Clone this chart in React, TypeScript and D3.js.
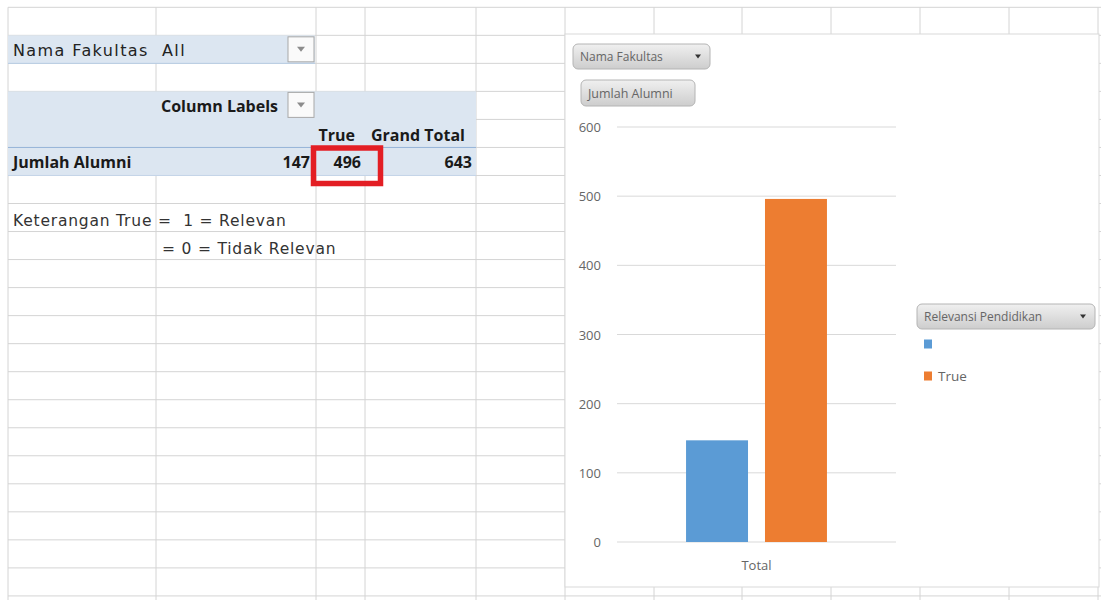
import React from 'react';
import * as d3 from 'd3';

// pivot chart data
const categories = ['Total'];
const seriesNames = ['', 'True'];
const seriesValues = [147, 496];
const seriesColors = ['#5b9bd5', '#ed7d31'];
const yTicks = [0, 100, 200, 300, 400, 500, 600];

// pivot table texts
const filterField = 'Nama Fakultas';
const filterValue = 'All';
const columnLabels = 'Column Labels';
const rowLabel = 'Jumlah Alumni';
const grandTotalLabel = 'Grand Total';
const legendTitle = 'Relevansi Pendidikan';
const noteLines = ['Keterangan True =  1 = Relevan', '= 0 = Tidak Relevan'];

const W = 1101;
const H = 600;
const colX = [8, 156, 316, 365, 476, 565, 654, 742, 831, 920, 1009, 1098];
const rowY = d3.range(22).map(i => 7.3 + i * 28.03);

const gridColor = '#d4d4d4';
const pivotFill = '#dce6f1';
const cellFont = "'Open Sans', sans-serif";
const noteFont = "'DejaVu Sans', sans-serif";
const chartFont = "'Open Sans', sans-serif";

const Button: React.FC<{ x: number; y: number; w: number; h: number; label: string; arrow?: boolean; fs?: number }> = ({ x, y, w, h, label, arrow, fs = 10 }) => (
  <g>
    <rect x={x} y={y} width={w} height={h} rx={5} fill="url(#btnGrad)" stroke="#b4b4b4" />
    <text x={x + 7} y={y + h / 2} dominantBaseline="central" fontSize={fs} fill="#666" fontFamily={chartFont}>{label}</text>
    {arrow && <path d={`M${x + w - 15},${y + h / 2 - 2} l6,0 l-3,4 z`} fill="#333" />}
  </g>
);

const DropBox: React.FC<{ x: number; y: number }> = ({ x, y }) => (
  <g>
    <rect x={x} y={y} width={26} height={25} fill="#fafafa" stroke="#a8a8a8" />
    <path d={`M${x + 9},${y + 10} l8,0 l-4,5 z`} fill="#8c8c8c" />
  </g>
);

const App: React.FC = () => {
  // chart geometry
  const plot = { left: 617, right: 896, top: 127, bottom: 542 };
  const y = d3.scaleLinear().domain([0, 600]).range([plot.bottom, plot.top]);
  const x0 = d3.scaleBand<string>().domain(categories).range([plot.left, plot.right]).paddingOuter(0.49).paddingInner(0);
  const x1 = d3.scaleBand<string>().domain(seriesNames).range([0, x0.bandwidth()]).paddingInner(0.215);
  const grandTotal = d3.sum(seriesValues);

  const r = (i: number) => rowY[i];

  return (
    <svg width={W} height={H} style={{ position: 'absolute', left: 0, top: 0, background: '#fff' }}>
      <defs>
        <linearGradient id="btnGrad" x1="0" y1="0" x2="0" y2="1">
          <stop offset="0" stopColor="#f0f0f0" />
          <stop offset="1" stopColor="#cdcdcd" />
        </linearGradient>
      </defs>

      {/* sheet grid */}
      <g stroke={gridColor} strokeWidth={1}>
        {rowY.map((yy, i) => <line key={'h' + i} x1={colX[0]} x2={W} y1={yy} y2={yy} />)}
        {colX.map((xx, i) => <line key={'v' + i} x1={xx} x2={xx} y1={rowY[0]} y2={H} />)}
      </g>

      {/* pivot table fills */}
      <rect x={colX[0]} y={r(1)} width={colX[2] - colX[0] - 1} height={r(2) - r(1)} fill={pivotFill} />
      <rect x={colX[0]} y={r(3)} width={colX[4] - colX[0]} height={r(6) - r(3)} fill={pivotFill} />
      <line x1={colX[0]} x2={colX[2] - 1} y1={r(2)} y2={r(2)} stroke="#b8cce4" />
      <line x1={colX[0]} x2={colX[4]} y1={r(5)} y2={r(5)} stroke="#95b3d7" />
      <line x1={colX[0]} x2={colX[4]} y1={r(6)} y2={r(6)} stroke="#c5d5e8" />

      <g fontFamily={cellFont} fill="#1a1a1a">
        <text x={13} y={r(2) - 7} fontSize={16} fontFamily={noteFont} letterSpacing={1.4} fill="#222">{filterField}</text>
        <text x={162} y={r(2) - 7} fontSize={16} fontFamily={noteFont} letterSpacing={1.4} fill="#222">{filterValue}</text>
        <text x={161} y={r(4) - 7} fontSize={16} fontWeight="bold">{columnLabels}</text>
        <text x={355} y={r(5) - 6} fontSize={16} fontWeight="bold" textAnchor="end">{seriesNames[1]}</text>
        <text x={465} y={r(5) - 6} fontSize={16} fontWeight="bold" textAnchor="end">{grandTotalLabel}</text>
        <text x={13} y={r(6) - 7} fontSize={16} fontWeight="bold">{rowLabel}</text>
        <text x={310} y={r(6) - 7} fontSize={16} fontWeight="bold" textAnchor="end">{seriesValues[0]}</text>
        <text x={361} y={r(6) - 7} fontSize={16} fontWeight="bold" textAnchor="end">{seriesValues[1]}</text>
        <text x={472} y={r(6) - 7} fontSize={16} fontWeight="bold" textAnchor="end">{grandTotal}</text>
        <text x={13} y={r(8) - 6} fontSize={15.5} letterSpacing={0.8} fill="#333" fontFamily={noteFont} style={{ whiteSpace: 'pre' }}>{noteLines[0]}</text>
        <text x={162} y={r(9) - 6} fontSize={15.5} letterSpacing={0.8} fill="#333" fontFamily={noteFont}>{noteLines[1]}</text>
      </g>
      <DropBox x={288} y={r(1) + 1.5} />
      <DropBox x={288} y={r(3) + 1} />
      <rect x={313.5} y={148} width={67} height={35.5} fill="none" stroke="#e31e24" strokeWidth={5.5} />

      {/* pivot chart */}
      <rect x={565} y={34} width={534} height={553} fill="#fff" stroke="#d9d9d9" />
      <Button x={573} y={44} w={137} h={25} label={filterField} arrow fs={12} />
      <Button x={581} y={80} w={114} h={26} label={rowLabel} fs={12.5} />

      <g>
        {yTicks.map(t => (
          <g key={t}>
            <line x1={plot.left} x2={plot.right} y1={y(t)} y2={y(t)} stroke="#d9d9d9" />
            <text x={601} y={y(t)} dominantBaseline="central" textAnchor="end" fontSize={13} fill="#666" fontFamily={chartFont}>{t}</text>
          </g>
        ))}
      </g>
      {categories.map(c => (
        <g key={c}>
          {seriesValues.map((v, i) => (
            <rect key={i} x={(x0(c) as number) + (x1(seriesNames[i]) as number)} y={y(v)} width={x1.bandwidth()} height={y(0) - y(v)} fill={seriesColors[i]} />
          ))}
          <text x={(x0(c) as number) + x0.bandwidth() / 2} y={565} dominantBaseline="central" textAnchor="middle" fontSize={13} fill="#666" fontFamily={chartFont}>{c}</text>
        </g>
      ))}

      {/* legend */}
      <Button x={917} y={304} w={178} h={25} label={legendTitle} arrow fs={12} />
      {seriesNames.map((s, i) => (
        <g key={i} transform={`translate(924,${344 + i * 32})`}>
          <rect x={0} y={-4.5} width={8} height={9} fill={seriesColors[i]} />
          <text x={14} y={0} dominantBaseline="central" fontSize={13.5} fill="#666" fontFamily={chartFont}>{s}</text>
        </g>
      ))}
    </svg>
  );
};

export default App;
